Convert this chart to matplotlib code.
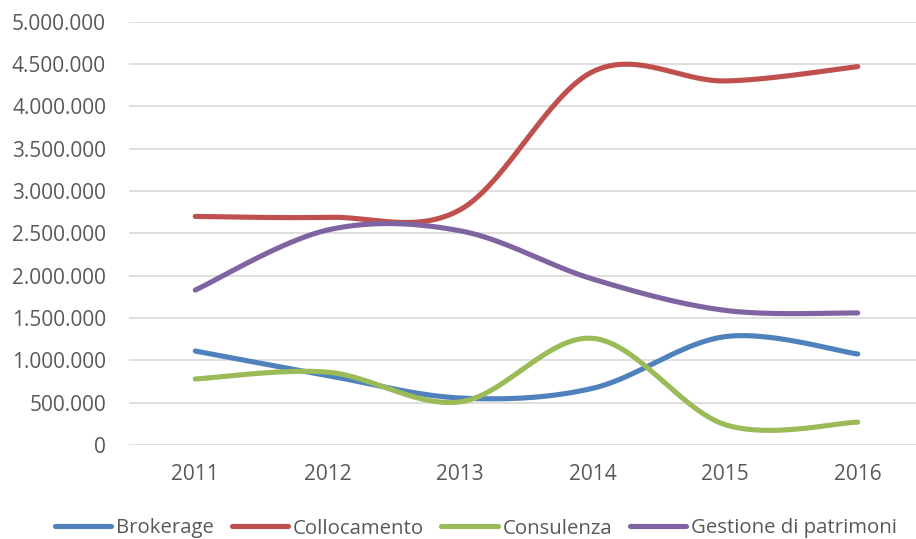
import numpy as np
import matplotlib
matplotlib.use("Agg")
import matplotlib.pyplot as plt
from matplotlib.ticker import FuncFormatter, MultipleLocator

years = ["2011", "2012", "2013", "2014", "2015", "2016"]
brokerage = [1110000, 820000, 555000, 670000, 1280000, 1075000]
collocamento = [2700000, 2690000, 2780000, 4410000, 4300000, 4470000]
consulenza = [780000, 860000, 510000, 1260000, 240000, 270000]
gestione = [1830000, 2540000, 2530000, 1960000, 1590000, 1560000]

series_names = ["Brokerage", "Collocamento", "Consulenza", "Gestione di patrimoni"]
series_values = [brokerage, collocamento, consulenza, gestione]
colors = ["#4F81BD", "#C0504D", "#9BBB59", "#8064A2"]

plt.rcParams['font.family'] = ['Open Sans', 'DejaVu Sans']


def smooth(xs, ys, n=60):
    # Excel-like smoothing: cubic Bezier with Catmull-Rom control points
    xs = np.asarray(xs, float)
    ys = np.asarray(ys, float)
    P = np.column_stack([xs, ys])
    out = []
    for i in range(len(P) - 1):
        p0 = P[i - 1] if i > 0 else P[i]
        p1 = P[i]
        p2 = P[i + 1]
        p3 = P[i + 2] if i + 2 < len(P) else P[i + 1]
        c1 = p1 + (p2 - p0) / 6.0
        c2 = p2 - (p3 - p1) / 6.0
        t = np.linspace(0, 1, n)[:, None]
        seg = ((1 - t) ** 3) * p1 + 3 * ((1 - t) ** 2) * t * c1 + 3 * (1 - t) * t ** 2 * c2 + t ** 3 * p2
        if i > 0:
            seg = seg[1:]
        out.append(seg)
    out = np.vstack(out)
    return out[:, 0], out[:, 1]


fig = plt.figure(figsize=(9.16, 5.39), dpi=100)
ax = fig.add_axes([129 / 916, 1 - 445 / 539, (924 - 129) / 916, (445 - 21.7) / 539])

x = np.arange(len(years))
for name, vals, c in zip(series_names, series_values, colors):
    sx, sy = smooth(x, vals)
    ax.plot(sx, sy, color=c, lw=3.7, solid_capstyle='round', label=name, clip_on=False)

ax.set_xlim(-0.5, len(years) - 0.5)
ax.set_ylim(0, 5000000)
ax.yaxis.set_major_locator(MultipleLocator(500000))
ax.yaxis.set_major_formatter(FuncFormatter(lambda v, p: f"{int(round(v)):,}".replace(",", ".")))
ax.set_xticks(x)
ax.set_xticklabels(years)
ax.grid(axis='y', color='#D9D9D9', lw=1.2)
ax.set_axisbelow(True)
for s in ax.spines.values():
    s.set_visible(False)
ax.tick_params(axis='both', length=0, labelsize=15, colors='#595959')
ax.tick_params(axis='y', pad=16.5)
ax.tick_params(axis='x', pad=14)

leg = fig.legend(loc='center', bbox_to_anchor=(476 / 916, 1 - 528.5 / 539), ncol=4, frameon=False,
                 fontsize=14.7, handlelength=2.75, handletextpad=0.25, columnspacing=0.85,
                 labelcolor='#595959', borderpad=0.1)
for h in leg.legend_handles:
    h.set_solid_capstyle('round')

fig.savefig("out.png", dpi=100)
